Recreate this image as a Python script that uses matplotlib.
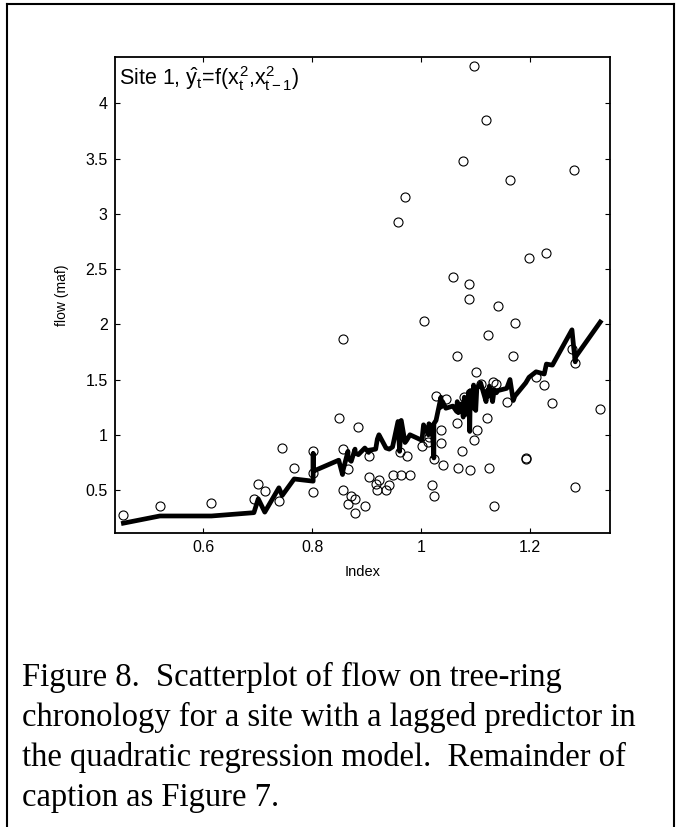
import matplotlib.pyplot as plt
from matplotlib.ticker import FormatStrFormatter
from matplotlib.lines import Line2D

plt.rcParams['font.family'] = 'Liberation Sans'
plt.rcParams['mathtext.fontset'] = 'custom'
plt.rcParams['mathtext.rm'] = 'Liberation Sans'
plt.rcParams['mathtext.it'] = 'Liberation Sans'

# tree-ring index vs observed flow (maf)
index = [0.453, 0.520, 0.615, 0.693, 0.701, 0.713, 0.739, 0.745, 0.767, 0.802,
         0.802, 0.802, 0.849, 0.856, 0.856, 0.856, 0.866, 0.866, 0.872, 0.879,
         0.879, 0.885, 0.897, 0.904, 0.904, 0.917, 0.920, 0.923, 0.936, 0.942,
         0.948, 0.958, 0.961, 0.964, 0.971, 0.974, 0.980, 1.002, 1.005, 1.014,
         1.015, 1.021, 1.024, 1.024, 1.028, 1.037, 1.037, 1.040, 1.046, 1.059,
         1.066, 1.067, 1.069, 1.075, 1.078, 1.080, 1.088, 1.088, 1.090, 1.091,
         1.097, 1.097, 1.101, 1.103, 1.110, 1.120, 1.122, 1.123, 1.126, 1.132,
         1.135, 1.139, 1.142, 1.158, 1.164, 1.170, 1.173, 1.193, 1.193, 1.199,
         1.212, 1.227, 1.231, 1.242, 1.278, 1.281, 1.284, 1.284, 1.330]
flow = [0.277, 0.355, 0.385, 0.419, 0.557, 0.494, 0.400, 0.883, 0.696, 0.856,
        0.651, 0.479, 1.152, 0.871, 0.497, 1.869, 0.371, 0.687, 0.448, 0.419,
        0.295, 1.073, 0.355, 0.620, 0.808, 0.557, 0.497, 0.590, 0.497, 0.542,
        0.636, 2.928, 0.841, 0.636, 3.149, 0.808, 0.636, 0.901, 2.027, 0.932,
        0.980, 0.542, 0.448, 0.778, 1.353, 1.043, 0.922, 0.726, 1.326, 2.430,
        1.713, 1.103, 0.699, 0.856, 3.477, 1.342, 2.367, 2.228, 1.342, 0.684,
        4.337, 0.950, 1.571, 1.043, 1.462, 3.848, 1.149, 1.900, 0.699, 1.477,
        0.355, 1.462, 2.165, 1.294, 3.305, 1.713, 2.009, 0.792, 0.778, 2.602,
        1.525, 1.447, 2.648, 1.290, 1.776, 3.399, 1.647, 0.527, 1.233]
# fitted values from the lagged quadratic model, in the same index order
fitted = [0.20, 0.265, 0.265, 0.295, 0.42, 0.30, 0.52, 0.45, 0.60, 0.58,
          0.83, 0.67, 0.77, 0.64, 0.70, 0.66, 0.85, 0.79, 0.76, 0.87,
          0.84, 0.82, 0.88, 0.84, 0.86, 0.87, 0.96, 1.00, 0.88, 0.87,
          0.89, 1.12, 0.85, 1.13, 0.93, 0.95, 1.00, 0.95, 1.09, 1.00,
          1.10, 1.06, 0.79, 1.10, 1.13, 1.34, 1.25, 1.30, 1.24, 1.26,
          1.21, 1.30, 1.20, 1.28, 1.16, 1.34, 1.17, 1.39, 1.03, 1.40,
          1.24, 1.45, 1.22, 1.42, 1.47, 1.30, 1.40, 1.35, 1.44, 1.30,
          1.41, 1.38, 1.40, 1.42, 1.50, 1.31, 1.35, 1.47, 1.47, 1.52,
          1.57, 1.55, 1.64, 1.63, 1.95, 1.80, 1.66, 1.70, 2.02]

xticks = [0.6, 0.8, 1.0, 1.2]
yticks = [0.5, 1, 1.5, 2, 2.5, 3, 3.5, 4]

caption = ("Figure 8.  Scatterplot of flow on tree-ring\n"
           "chronology for a site with a lagged predictor in\n"
           "the quadratic regression model.  Remainder of\n"
           "caption as Figure 7.")

fig = plt.figure(figsize=(6.76, 8.27), dpi=100)
ax = fig.add_axes([0.1697, 0.3551, 0.7327, 0.5756])

ax.plot(index, flow, 'o', mfc='none', mec='black', ms=6.5, mew=0.8)
ax.plot(index, fitted, '-', color='black', lw=3.4)

ax.set_xlim(0.437, 1.348)
ax.set_ylim(0.108, 4.416)
ax.set_xticks(xticks)
ax.set_yticks(yticks)
ax.xaxis.set_major_formatter(FormatStrFormatter('%g'))
ax.yaxis.set_major_formatter(FormatStrFormatter('%g'))
ax.tick_params(direction='in', length=3.5, width=0.8, top=True, right=True,
               labelsize=11.5, pad=5)
for s in ax.spines.values():
    s.set_linewidth(1.3)

ax.set_xlabel('Index', fontsize=10.5, labelpad=7)
ax.set_ylabel('flow (maf)', fontsize=10, labelpad=12)
ax.text(0.008, 0.985, r'Site 1, $\hat{y}_t$=f($x_t^2$,$x_{t-1}^2$)',
        transform=ax.transAxes, ha='left', va='top', fontsize=15.5)

fig.text(0.032, 0.2, caption, ha='left', va='top', fontsize=23.5,
         family='Liberation Serif', linespacing=1.38)

# page frame around the figure
fig.add_artist(Line2D([0.0104, 0.0104], [0, 0.995], color='black', lw=1.5,
                      transform=fig.transFigure))
fig.add_artist(Line2D([0.0104, 0.997], [0.995, 0.995], color='black', lw=1.5,
                      transform=fig.transFigure))
fig.add_artist(Line2D([0.997, 0.997], [0, 0.995], color='black', lw=1.5,
                      transform=fig.transFigure))

fig.savefig('out.png', dpi=100)
